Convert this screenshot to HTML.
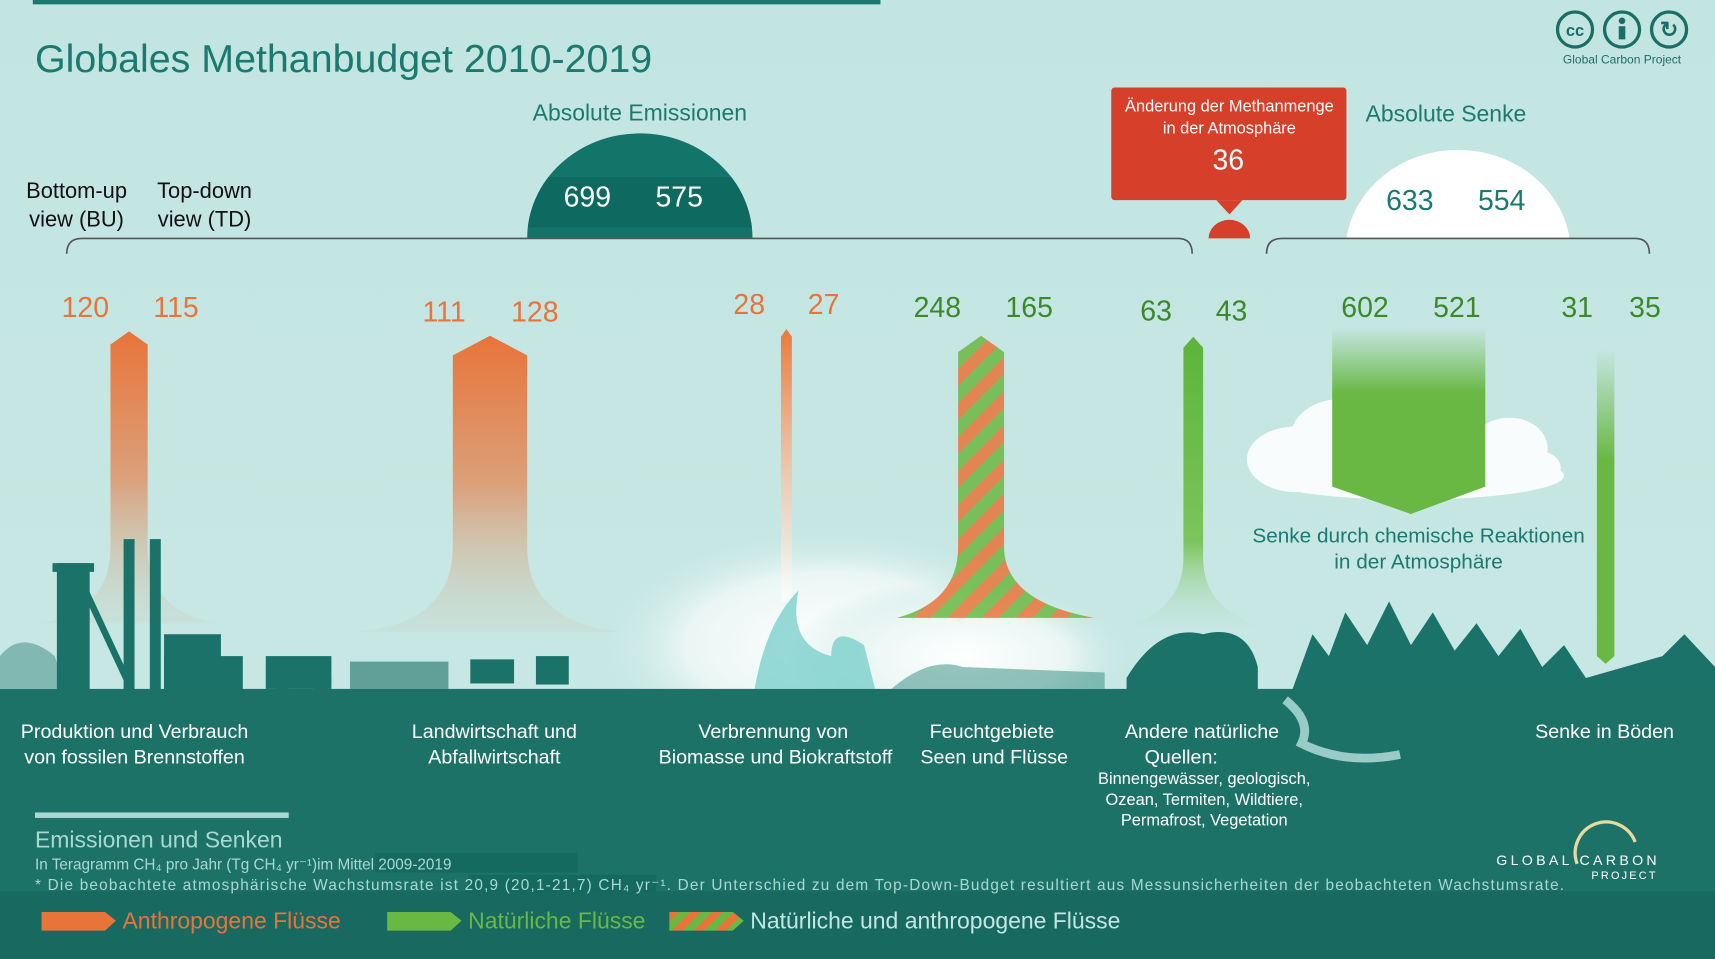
<!DOCTYPE html>
<html><head><meta charset="utf-8"><style>
html,body{margin:0;padding:0;width:1715px;height:959px;overflow:hidden;background:#c5e6e2}
svg{display:block}
text{font-family:"Liberation Sans",sans-serif}
</style></head><body>
<svg width="1715" height="959" viewBox="0 0 1568 877" preserveAspectRatio="none">
<defs>
<linearGradient id="bg" x1="0" y1="0" x2="0" y2="1">
<stop offset="0" stop-color="#c3e5e1"/><stop offset="1" stop-color="#c8e8e4"/></linearGradient>
<radialGradient id="smoke" cx="0.5" cy="0.5" r="0.5">
<stop offset="0" stop-color="#ffffff"/><stop offset="0.6" stop-color="#eaf6f4"/><stop offset="1" stop-color="#c5e6e2" stop-opacity="0"/></radialGradient>
<linearGradient id="or" x1="0" y1="0" x2="0" y2="1">
<stop offset="0" stop-color="#e8743a"/><stop offset="0.5" stop-color="#dba07a"/><stop offset="1" stop-color="#c8d6c8" stop-opacity="0.3"/></linearGradient>
<linearGradient id="or3" x1="0" y1="0" x2="0" y2="1">
<stop offset="0" stop-color="#ea7a3a"/><stop offset="1" stop-color="#ffffff" stop-opacity="0.6"/></linearGradient>
<linearGradient id="gr" x1="0" y1="0" x2="0" y2="1">
<stop offset="0" stop-color="#5cb43a"/><stop offset="0.7" stop-color="#7cc45a"/><stop offset="1" stop-color="#c5e6e2" stop-opacity="0.2"/></linearGradient>
<linearGradient id="gs" x1="0" y1="0" x2="0" y2="1">
<stop offset="0" stop-color="#c5e6e2"/><stop offset="0.35" stop-color="#6ab844"/><stop offset="1" stop-color="#6ab844"/></linearGradient>
<pattern id="stripe" width="22" height="22" patternUnits="userSpaceOnUse" patternTransform="rotate(45)">
<rect width="22" height="22" fill="#6ab844"/><rect width="11" height="22" fill="#e8743a"/></pattern>
<pattern id="stripeL" width="14" height="14" patternUnits="userSpaceOnUse" patternTransform="rotate(45)">
<rect width="14" height="14" fill="#6ab844"/><rect width="7" height="14" fill="#e8743a"/></pattern>
<clipPath id="semi"><path d="M482 218 A103 96 0 0 1 688 218 Z"/></clipPath>
</defs>
<rect width="1568" height="877" fill="url(#bg)"/>
<ellipse cx="760" cy="590" rx="220" ry="110" fill="url(#smoke)"/>
<ellipse cx="880" cy="600" rx="160" ry="70" fill="url(#smoke)"/>
<rect x="30" y="0" width="775" height="4" fill="#1a7a6e"/>
<text x="32" y="66" font-size="36" fill="#1a7a70">Globales Methanbudget 2010-2019</text>
<g fill="none" stroke="#1a6e66" stroke-width="3">
<circle cx="1440" cy="27" r="16"/><circle cx="1483" cy="27" r="16"/><circle cx="1526" cy="27" r="16"/></g>
<text x="1440" y="33" font-size="15" font-weight="bold" fill="#1a6e66" text-anchor="middle">cc</text>
<circle cx="1483" cy="19" r="3" fill="#1a6e66"/><rect x="1480" y="24" width="6" height="12" fill="#1a6e66"/>
<text x="1526" y="34" font-size="20" font-weight="bold" fill="#1a6e66" text-anchor="middle">↻</text>
<text x="1483" y="58" font-size="11" fill="#1a6e66" text-anchor="middle">Global Carbon Project</text>
<text x="585" y="110" font-size="21" fill="#1a7a70" text-anchor="middle">Absolute Emissionen</text>
<path d="M482 218 A103 96 0 0 1 688 218 Z" fill="#13746a"/>
<rect x="482" y="162" width="206" height="46" fill="#0e6a60" clip-path="url(#semi)"/>
<text x="537" y="189" font-size="26" fill="#fff" text-anchor="middle">699</text>
<text x="621" y="189" font-size="26" fill="#fff" text-anchor="middle">575</text>
<text x="70" y="181" font-size="20" fill="#111" text-anchor="middle">Bottom-up</text>
<text x="70" y="207" font-size="20" fill="#111" text-anchor="middle">view (BU)</text>
<text x="187" y="181" font-size="20" fill="#111" text-anchor="middle">Top-down</text>
<text x="187" y="207" font-size="20" fill="#111" text-anchor="middle">view  (TD)</text>
<path d="M61 232 Q61 218 75 218 L1077 218 Q1090 218 1090 232" fill="none" stroke="#555" stroke-width="1.5"/>
<rect x="1016" y="80" width="215" height="103" rx="3" fill="#d63f2a"/>
<path d="M1112 183 L1124 196 L1136 183 Z" fill="#d63f2a"/>
<text x="1124" y="102" font-size="15" fill="#fff" text-anchor="middle">Änderung der Methanmenge</text>
<text x="1124" y="122" font-size="15" fill="#fff" text-anchor="middle">in der Atmosphäre</text>
<text x="1123" y="155" font-size="26" fill="#fff" text-anchor="middle">36</text>
<path d="M1105 218 A19 17 0 0 1 1143 218 Z" fill="#d63f2a"/>
<text x="1322" y="111" font-size="21" fill="#1a7a70" text-anchor="middle">Absolute Senke</text>
<path d="M1231 218 A103 94 0 0 1 1435 218 Z" fill="#fff"/>
<text x="1289" y="192" font-size="26" fill="#1a7a70" text-anchor="middle">633</text>
<text x="1373" y="192" font-size="26" fill="#1a7a70" text-anchor="middle">554</text>
<path d="M1158 232 Q1158 218 1172 218 L1495 218 Q1508 218 1508 232" fill="none" stroke="#555" stroke-width="1.5"/>
<g font-size="26" text-anchor="middle">
<text x="78" y="290" fill="#e8743a">120</text><text x="161" y="290" fill="#e8743a">115</text>
<text x="406" y="294" fill="#e8743a">111</text><text x="489" y="294" fill="#e8743a">128</text>
<text x="685" y="287" fill="#e8743a">28</text><text x="753" y="287" fill="#e8743a">27</text>
<text x="857" y="290" fill="#3a8a2a">248</text><text x="941" y="290" fill="#3a8a2a">165</text>
<text x="1057" y="293" fill="#3a8a2a">63</text><text x="1126" y="293" fill="#3a8a2a">43</text>
<text x="1248" y="290" fill="#3a8a2a">602</text><text x="1332" y="290" fill="#3a8a2a">521</text>
<text x="1442" y="290" fill="#3a8a2a">31</text><text x="1504" y="290" fill="#3a8a2a">35</text>
</g>
<path d="M101 315 L118 303 L135 315 L135 500 Q135 560 200 570 L36 570 Q101 560 101 500 Z" fill="url(#or)"/>
<path d="M414 325 L448 307 L482 325 L482 500 Q482 570 570 578 L326 578 Q414 570 414 500 Z" fill="url(#or)"/>
<path d="M714 308 L719 301 L724 308 L724 550 L714 550 Z" fill="url(#or3)"/>
<path d="M876 322 L897 307 L918 322 L918 500 Q918 550 1000 565 L820 565 Q876 550 876 500 Z" fill="url(#stripe)" opacity="0.85"/>
<path d="M1082 318 L1091 308 L1100 318 L1100 510 Q1100 560 1160 575 L1022 575 Q1082 560 1082 510 Z" fill="url(#gr)"/>
<g fill="#fff" opacity="0.9">
<ellipse cx="1185" cy="420" rx="45" ry="30"/><ellipse cx="1225" cy="400" rx="45" ry="35"/>
<ellipse cx="1380" cy="410" rx="35" ry="28"/><ellipse cx="1405" cy="428" rx="22" ry="16"/>
<ellipse cx="1290" cy="435" rx="140" ry="22"/></g>
<path d="M1218 300 L1358 300 L1358 445 L1290 470 L1218 445 Z" fill="url(#gs)"/>
<text x="1297" y="496" font-size="19" fill="#1a7a70" text-anchor="middle">Senke durch chemische Reaktionen</text>
<text x="1297" y="520" font-size="19" fill="#1a7a70" text-anchor="middle">in der Atmosphäre</text>
<path d="M1460 320 L1476 320 L1476 600 L1468 607 L1460 600 Z" fill="url(#gs)"/>
<g fill="#1a7268">
<rect x="52" y="515" width="30" height="120"/><rect x="48" y="515" width="38" height="8"/>
<rect x="75" y="540" width="6" height="90" transform="rotate(-25 78 540)"/>
<rect x="113" y="493" width="10" height="140"/><rect x="137" y="493" width="10" height="140"/>
<rect x="150" y="580" width="52" height="55"/><rect x="150" y="600" width="72" height="35"/>
<rect x="243" y="600" width="60" height="30"/><circle cx="258" cy="625" r="8"/><circle cx="293" cy="622" r="10"/>
<rect x="430" y="603" width="40" height="22"/><rect x="490" y="600" width="30" height="26"/>
<rect x="320" y="605" width="90" height="25" opacity="0.6"/>
<path d="M1030 620 Q1060 570 1100 580 Q1140 570 1150 610 L1150 635 L1030 635 Z"/>
<path d="M1180 635 L1200 580 L1215 600 L1230 560 L1250 590 L1270 550 L1290 590 L1310 560 L1330 595 L1350 570 L1370 600 L1390 575 L1410 610 L1430 590 L1450 620 L1520 600 L1540 580 L1568 610 L1568 640 L1180 640 Z"/>
<path d="M0 630 L0 600 Q20 575 50 600 L60 630 Z" opacity="0.4"/>
</g>
<path d="M690 630 Q700 570 730 540 Q720 590 760 600 Q760 570 790 590 L800 630 Z" fill="#6ccac6" opacity="0.7"/>
<path d="M815 630 Q850 600 880 610 L1010 615 L1010 630 Z" fill="#2d8a7c" opacity="0.5"/>
<rect x="0" y="630" width="1568" height="247" fill="#1d7268"/>
<path d="M1175 640 Q1200 660 1190 680 Q1230 700 1280 690" fill="none" stroke="#b9e2dd" stroke-width="8" opacity="0.8"/>
<rect x="0" y="815" width="1568" height="62" fill="#186a60"/>
<g font-size="18" fill="#fff" text-anchor="middle">
<text x="123" y="675">Produktion und Verbrauch</text><text x="123" y="698">von fossilen Brennstoffen</text>
<text x="452" y="675">Landwirtschaft und</text><text x="452" y="698">Abfallwirtschaft</text>
<text x="707" y="675">Verbrennung von</text><text x="709" y="698">Biomasse und Biokraftstoff</text>
<text x="907" y="675">Feuchtgebiete</text><text x="909" y="698">Seen und Flüsse</text>
<text x="1099" y="675">Andere natürliche</text><text x="1080" y="698">Quellen:</text>
<text x="1467" y="675">Senke in Böden</text>
</g>
<g font-size="15" fill="#fff" text-anchor="middle">
<text x="1101" y="717">Binnengewässer, geologisch,</text>
<text x="1101" y="736">Ozean, Termiten, Wildtiere,</text>
<text x="1101" y="755">Permafrost, Vegetation</text></g>
<rect x="32" y="743" width="232" height="5" fill="#a9d8d2"/>
<text x="32" y="775" font-size="21" fill="#a9d8d2">Emissionen und Senken</text>
<rect x="343" y="780" width="185" height="18" fill="#156a5f"/>
<rect x="428" y="800" width="172" height="18" fill="#156a5f"/>
<text x="32" y="795" font-size="14" fill="#a9d8d2">In Teragramm CH₄  pro Jahr (Tg CH₄ yr⁻¹)im  Mittel 2009-2019</text>
<text x="32" y="814" font-size="14" fill="#a9d8d2" textLength="1398" lengthAdjust="spacing">* Die beobachtete atmosphärische Wachstumsrate ist  20,9 (20,1-21,7) CH₄ yr⁻¹. Der Unterschied zu dem Top-Down-Budget resultiert aus Messunsicherheiten der beobachteten Wachstumsrate.</text>
<text x="1368" y="791" font-size="13" fill="#fff" letter-spacing="3">GLOBAL CARBON</text>
<text x="1455" y="804" font-size="10" fill="#fff" letter-spacing="2">PROJECT</text>
<path d="M1442 790 A28 28 0 0 1 1495 770" fill="none" stroke="#e8d9a0" stroke-width="3"/>
<path d="M38 834 L96 834 L106 842 L96 851 L38 851 Z" fill="#e8743a"/>
<text x="112" y="849" font-size="21" fill="#e8743a">Anthropogene Flüsse</text>
<path d="M354 834 L412 834 L422 842 L412 851 L354 851 Z" fill="#6ab844"/>
<text x="428" y="849" font-size="21" fill="#6ab844">Natürliche Flüsse</text>
<path d="M612 834 L670 834 L680 842 L670 851 L612 851 Z" fill="url(#stripeL)"/>
<text x="686" y="849" font-size="21" fill="#c5e6e2">Natürliche und anthropogene Flüsse</text>
</svg>
</body></html>
